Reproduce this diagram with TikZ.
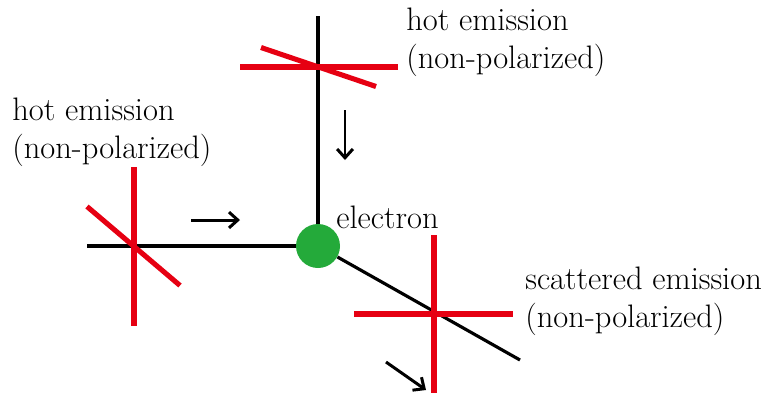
\documentclass[tikz,border=0pt]{standalone}
\usetikzlibrary{arrows.meta}
\definecolor{polred}{RGB}{230,0,18}
\definecolor{elgreen}{RGB}{36,170,58}
\begin{document}
\begin{tikzpicture}[
  x=0.02cm, y=-0.02cm,
  font=\fontsize{18.5}{21.6}\selectfont,
  beam/.style={line width=1.8pt, black},
  pol/.style={line width=2.9pt, polred},
  flow/.style={line width=1.7pt, -{Straight Barb[length=5pt, width=9pt]}},
  lab/.style={anchor=north west, align=left, inner sep=0pt},
  electron/.style={circle, fill=elgreen, minimum size=0.88cm, inner sep=0pt}
]
\useasboundingbox (0,0) rectangle (770,397);
% electron and beams
\node[electron] (el) at (318,246) {};
\node[anchor=base west, inner sep=0pt] (ellab) at (336,228) {electron};
\coordinate (topin) at (318,16);
\coordinate (leftin) at (87,246);
\coordinate (out) at (520,360);
\draw[beam] (topin) -- (el);
\draw[beam] (leftin) -- (el);
\draw[beam] (el) -- (out);
% polarization crosses
\coordinate (ctop) at (318,67);
\coordinate (cleft) at (134,246);
\coordinate (cout) at (434,314);
\draw[pol] (ctop) ++(-78,0) -- ++(158,0);
\draw[pol] (ctop) ++(-57,-19.5) -- ++(115,39);
\draw[pol] (cleft) ++(0,-79) -- ++(0,159);
\draw[pol] (cleft) ++(-47,-39.5) -- ++(93,79);
\draw[pol] (cout) ++(-80,0) -- ++(159,0);
\draw[pol] (cout) ++(0,-79) -- ++(0,158);
% propagation arrows
\coordinate (a1) at (345,110); \coordinate (b1) at (345,160);
\coordinate (a2) at (191,220); \coordinate (b2) at (240,220);
\coordinate (a3) at (386,362); \coordinate (b3) at (426,390);
\draw[flow] (a1) -- (b1);
\draw[flow] (a2) -- (b2);
\draw[flow] (a3) -- (b3);
% labels
\node[lab] (labtop) at (406,8) {hot emission\\(non-polarized)};
\node[lab] (lableft) at (12,98) {hot emission\\(non-polarized)};
\node[lab] (labout) at (525,267) {scattered emission\\(non-polarized)};
\end{tikzpicture}
\end{document}
